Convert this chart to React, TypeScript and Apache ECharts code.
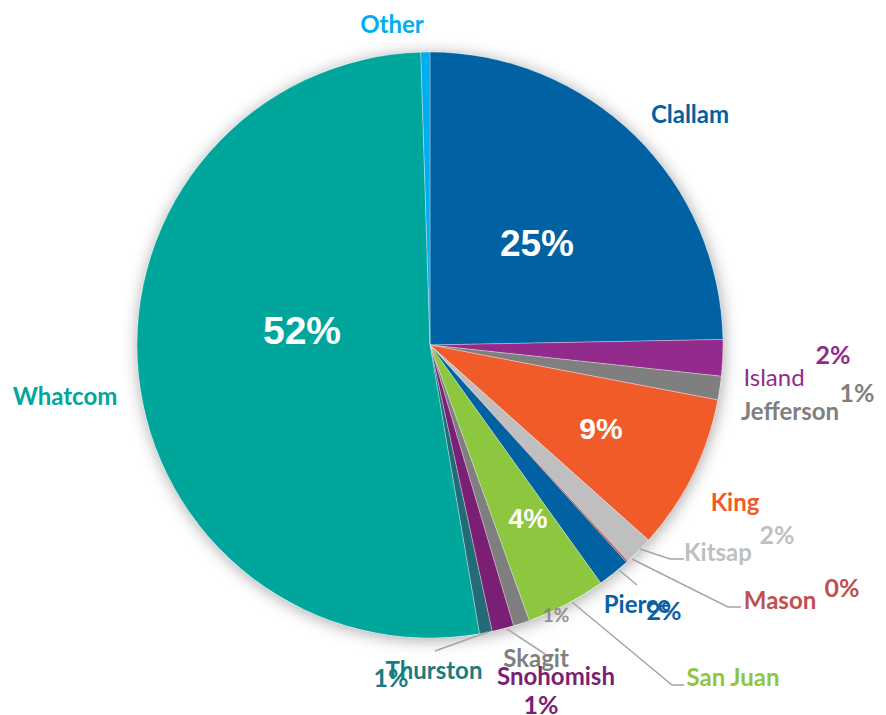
import React, { useEffect, useRef } from 'react';
import * as echarts from 'echarts';

// ---- data ----
const counties = ['Clallam', 'Island', 'Jefferson', 'King', 'Kitsap', 'Mason', 'Pierce', 'San Juan', 'Skagit', 'Snohomish', 'Thurston', 'Whatcom', 'Other'];
const shares = [24.7, 2.0, 1.3, 8.6, 1.6, 0.1, 1.8, 4.4, 0.9, 1.2, 0.7, 52.2, 0.5];

// ---- styles ----
const sliceColors = ['#0061A3', '#922B8C', '#7F7F7F', '#F15A29', '#BFBFBF', '#C0504D', '#0061A3', '#8DC63F', '#7F7F7F', '#7B1F74', '#236B77', '#00A69C', '#00AEEF'];
const labelColors = ['#0061A3', '#922B8C', '#808080', '#F15A29', '#BFBFBF', '#C0504D', '#0B5FA5', '#8DC63F', '#808080', '#7B1F74', '#1B7B80', '#00A69C', '#00AEEF'];

// label placement (text centers, px)
const nameLabelPos: [number, number][] = [
  [690, 113], [774, 376], [790, 410], [735, 501], [718, 551], [780, 599], [637, 603],
  [733, 676], [536, 657], [556, 675], [434, 669], [65, 395], [392, 23],
];
const pctLabelPos: ([number, number] | null)[] = [
  [537, 243], [833, 354], [857, 392], [601, 428], [777, 534], [842, 587], [664, 610],
  [528, 519], [556, 614], [541, 704], [391, 677], [302, 330], null,
];
const pctInside = [true, false, false, true, false, false, false, true, false, false, false, true, false];
const pctSize = [37, 25, 25, 30, 25, 25, 25, 27, 19, 25, 25, 39, 0];
const leaderLines: (number[][] | null)[] = [
  null, null, null, null,
  [[640, 549], [670, 559], [684, 559]],
  [[632, 559], [728, 607], [741, 607]],
  [[619, 570], [637, 585]],
  [[572, 602], [672, 685], [684, 685]],
  [[507, 629], [545, 654]],
  null,
  [[488, 632], [435, 651]],
  null, null,
];

const CENTER: [number, number] = [430, 345];
const RADIUS = 293;

export default function App() {
  const ref = useRef<HTMLDivElement>(null);
  useEffect(() => {
    if (!ref.current) return;
    const chart = echarts.init(ref.current, undefined, { renderer: 'svg' });

    const pctData = counties.map((name, i) => ({
      name,
      value: shares[i],
      itemStyle: { color: sliceColors[i] },
      label: pctLabelPos[i]
        ? {
            show: true,
            color: pctInside[i] ? '#FFFFFF' : labelColors[i],
            fontSize: pctSize[i],
            fontWeight: 'bold',
            fontFamily: pctInside[i] ? 'Liberation Sans, Arial, sans-serif' : 'Lato, sans-serif',
            opacity: i === 8 ? 0.85 : 1,
          }
        : { show: false },
    }));

    const nameData = counties.map((name, i) => ({
      name,
      value: shares[i],
      itemStyle: { color: 'rgba(0,0,0,0)' },
      label: {
        show: true,
        color: labelColors[i],
        fontSize: 24,
        fontWeight: i === 1 ? 'normal' : 'bold',
        fontFamily: 'Lato, sans-serif',
      },
      labelLine: { show: !!leaderLines[i] },
    }));

    chart.setOption({
      animation: false,
      backgroundColor: '#FFFFFF',
      series: [
        {
          type: 'pie',
          silent: true,
          center: CENTER,
          radius: RADIUS,
          z: 1,
          label: { show: false },
          labelLine: { show: false },
          data: [
            {
              value: 1,
              itemStyle: {
                color: '#FFFFFF',
                shadowBlur: 16,
                shadowColor: 'rgba(0,0,0,0.35)',
                shadowOffsetX: 1,
                shadowOffsetY: 2,
              },
            },
          ],
        },
        {
          type: 'pie',
          center: CENTER,
          radius: RADIUS,
          startAngle: 90,
          clockwise: true,
          z: 2,
          avoidLabelOverlap: false,
          itemStyle: { borderColor: 'rgba(255,255,255,0.6)', borderWidth: 0.5 },
          label: {
            show: true,
            position: 'outside',
            formatter: (p: any) => Math.round(p.percent) + '%',
          },
          labelLine: { show: false },
          labelLayout: (p: any) => {
            const pos = pctLabelPos[p.dataIndex];
            if (!pos) return {};
            return { x: pos[0], y: pos[1], align: 'center', verticalAlign: 'middle' };
          },
          data: pctData,
        },
        {
          type: 'pie',
          silent: true,
          center: CENTER,
          radius: RADIUS,
          startAngle: 90,
          clockwise: true,
          z: 3,
          avoidLabelOverlap: false,
          label: { show: true, position: 'outside', formatter: '{b}' },
          labelLine: {
            show: true,
            lineStyle: { color: '#A5A5A5', width: 1.5, opacity: 1 },
          },
          labelLayout: (p: any) => {
            const i = p.dataIndex;
            const pos = nameLabelPos[i];
            const out: any = { x: pos[0], y: pos[1], align: 'center', verticalAlign: 'middle' };
            if (leaderLines[i]) out.labelLinePoints = leaderLines[i];
            return out;
          },
          data: nameData,
        },
      ],
    });
    return () => chart.dispose();
  }, []);

  return (
    <div
      ref={ref}
      style={{ position: 'fixed', left: 0, top: 0, width: 886, height: 715 }}
    />
  );
}
